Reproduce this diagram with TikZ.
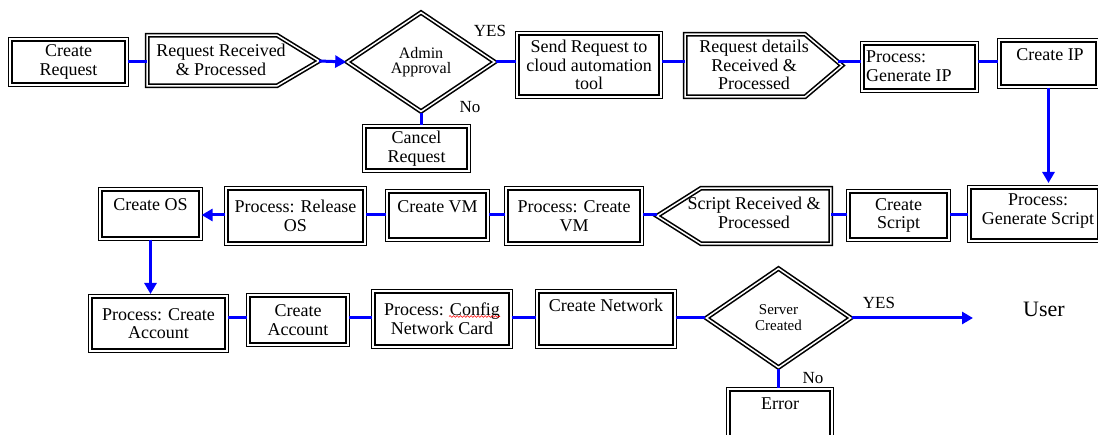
\documentclass[tikz,border=0pt]{standalone}
\usepackage{fontspec}
\setmainfont{Liberation Serif}
\usetikzlibrary{arrows.meta,shapes.geometric,decorations.pathmorphing}
\begin{document}
\begin{tikzpicture}[x=1pt,y=-1pt,
  dbl/.style={draw=black, double=white, line width=1.6pt, double distance=1.5pt, line join=miter},
  box/.style={dbl, rectangle, inner sep=0pt, align=center, font=\fontsize{18}{18.5}\selectfont},
  dia/.style={dbl, diamond, inner sep=0pt, align=center, font=\fontsize{16}{15.5}\selectfont},
  txt/.style={inner sep=0pt, align=center, font=\fontsize{18}{18.5}\selectfont},
  lbl/.style={inner sep=0pt, font=\fontsize{17}{18}\selectfont},
  conn/.style={draw=blue, line width=3pt},
  arr/.style={conn, -{Triangle[length=11pt,width=12pt]}},
]
\useasboundingbox (0,0) rectangle (1098,435);
\fill[white] (0,0) rectangle (1098,435);

% ---------- Row 1 ----------
\node[box, minimum width=116.6pt, minimum height=45.6pt] (creq) at (68.5,62) {Create\\Request};

\draw[dbl] (147.2,35.2) -- (277,35.2) -- (319,61) -- (277,85.8) -- (147.2,85.8) -- cycle;
\coordinate (rrpL) at (147.2,62);
\coordinate (rrpR) at (319,61);
\node[txt] (rrp) at (221,60) {Request Received\\\& Processed};

\node[dia, minimum width=148pt, minimum height=99.6pt] (admin) at (421,62) {Admin\\Approval};
\node[lbl] (yes1) at (490,31) {YES};
\node[lbl] (no1) at (470,107) {No};

\node[box, minimum width=104.6pt, minimum height=44.6pt] (cancel) at (416.5,148.5) {Cancel\\Request};

\node[box, minimum width=143.6pt, minimum height=63.6pt] (send) at (589,65) {Send Request to\\cloud automation\\tool};

\draw[dbl] (685.2,34.2) -- (805,34.2) -- (842,65.5) -- (805,96.8) -- (685.2,96.8) -- cycle;
\coordinate (rdrpL) at (685.2,62);
\coordinate (rdrpR) at (838,62);
\node[txt] (rdrp) at (754,65) {Request details\\Received \&\\Processed};

\node[box, minimum width=114.6pt, minimum height=47.6pt] (genip) at (919.5,67) {};
\node[txt, align=left, anchor=west] (genipt) at (866,66) {Process:\\Generate IP};

\node[box, minimum width=98.6pt, minimum height=46.6pt] (cip) at (1048.5,63.5) {};
\node[txt] (cipt) at (1050,55) {Create IP};

\draw[conn] (creq.east) -- (rrpL);
\draw[arr] (rrpR) -- (admin.west);
\draw[conn] (admin.east) -- (admin.east -| send.west);
\draw[conn] (admin.south) -- (admin.south |- cancel.north);
\draw[conn] (send.east |- rdrpL) -- (rdrpL);
\draw[conn] (rdrpR) -- (rdrpR -| genip.west);
\draw[conn] (genip.east |- 0,62) -- (cip.west |- 0,62);
\draw[arr] (cip.south) -- (cip.south |- 0,183);

% ---------- Row 2 ----------
\node[box, minimum width=130.6pt, minimum height=53.6pt] (gens) at (1034.5,214) {};
\node[txt] (genst) at (1038,211) {Process:\\Generate Script};

\node[box, minimum width=100.6pt, minimum height=48.6pt] (cscript) at (898.5,215.5) {Create\\Script};

\draw[dbl] (830.8,188.2) -- (701,188.2) -- (657,216) -- (701,243.8) -- (830.8,243.8) -- cycle;
\coordinate (srpL) at (657,215);
\coordinate (srpR) at (830.8,215);
\node[txt] (srp) at (754,213) {Script Received \&\\Processed};

\node[box, minimum width=135.6pt, minimum height=55.6pt] (pcvm) at (574,216) {Process: Create\\VM};

\node[box, minimum width=100.6pt, minimum height=48.6pt] (cvm) at (437.5,215.5) {};
\node[txt] (cvmt) at (437.5,207) {Create VM};

\node[box, minimum width=138.6pt, minimum height=55.6pt] (relos) at (295.5,216) {Process: Release\\OS};

\node[box, minimum width=100.6pt, minimum height=49.6pt] (cos) at (150.5,214) {};
\node[txt] (cost) at (150.5,205) {Create OS};

\draw[conn] (gens.west |- 0,215) -- (cscript.east |- 0,215);
\draw[conn] (cscript.west |- 0,215) -- (srpR);
\draw[conn] (srpL) -- (pcvm.east |- srpL);
\draw[conn] (pcvm.west |- 0,215) -- (cvm.east |- 0,215);
\draw[conn] (cvm.west |- 0,215) -- (relos.east |- 0,215);
\draw[arr] (relos.west |- 0,215) -- (cos.east |- 0,215);
\draw[arr] (cos.south) -- (cos.south |- 0,294);

% ---------- Row 3 ----------
\node[box, minimum width=136.6pt, minimum height=54.6pt] (pca) at (158.5,323.5) {Process: Create\\Account};
\node[box, minimum width=99.6pt, minimum height=49.6pt] (cacc) at (298,320) {Create\\Account};
\node[box, minimum width=137.6pt, minimum height=55.6pt] (pcnc) at (442,319) {Process: Config\\Network Card};
\draw[red, line width=0.6pt, decorate, decoration={snake, amplitude=0.9pt, segment length=3.5pt}] (449,316.5) -- (500,316.5);

\node[box, minimum width=137.6pt, minimum height=55.6pt] (cnet) at (606,319) {};
\node[txt] (cnett) at (606,305) {Create Network};

\node[dia, minimum width=145pt, minimum height=99.6pt, font=\fontsize{15}{16}\selectfont] (sc) at (778.5,318) {Server\\Created};
\node[lbl] (yes2) at (879,303) {YES};
\node[lbl] (no2) at (813,378) {No};
\coordinate (userend) at (973,318);
\node[inner sep=0pt, font=\fontsize{22}{24}\selectfont] (user) at (1044,309) {User};

\node[box, minimum width=103.6pt, minimum height=48.6pt] (err) at (780,413.5) {};
\node[txt] (errt) at (780,404) {Error};

\draw[conn] (pca.east |- 0,318) -- (cacc.west |- 0,318);
\draw[conn] (cacc.east |- 0,318) -- (pcnc.west |- 0,318);
\draw[conn] (pcnc.east |- 0,318) -- (cnet.west |- 0,318);
\draw[conn] (cnet.east |- 0,318) -- (sc.west);
\draw[arr] (sc.east) -- (userend);
\draw[conn] (sc.south) -- (sc.south |- err.north);
\end{tikzpicture}
\end{document}
